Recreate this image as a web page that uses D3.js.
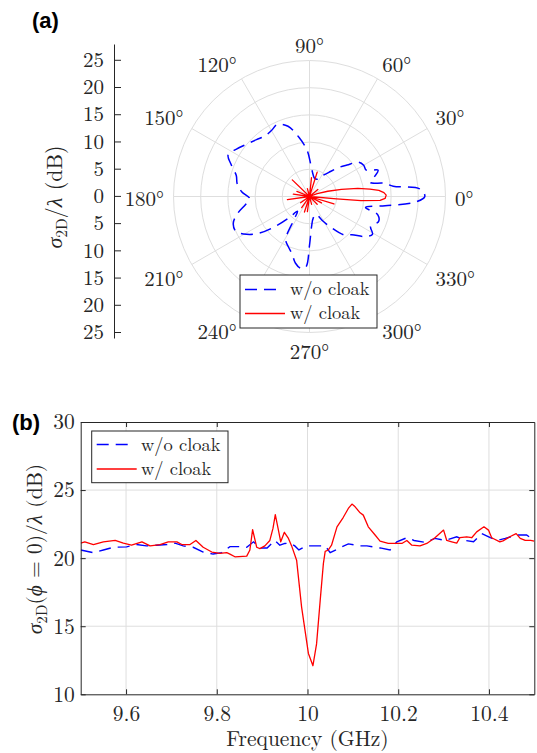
<!DOCTYPE html>
<html>
<head>
<meta charset="utf-8">
<script src="https://cdn.jsdelivr.net/npm/d3@7"></script>
<style>
  body { margin: 0; background: #fff; }
  svg { display: block; }
  text { font-family: 'Latin Modern Roman', 'Liberation Serif', serif; fill: #262626; }
  .panel-tag { font-family: 'Liberation Sans', Arial, sans-serif; font-weight: bold; fill: #000; }
</style>
</head>
<body>
<svg width="537" height="753"></svg>
<script>

// ======================= DATA ===============================
//  (a) polar pattern, angle in degrees, radius in dB
const blueTheta = [0, 4, 7, 10, 13, 17, 21, 25, 30, 35, 40, 45, 50, 58, 65, 75, 83, 88, 93, 100,
    107, 114, 120, 126, 133, 140, 147, 153, 158, 164, 170, 176, 182, 187, 193, 199, 205, 211, 216, 221,
    226, 231, 236, 241, 247, 253, 258, 263, 267, 270, 274, 280, 290, 298, 305, 312, 318, 324, 329, 334,
    340, 345, 349, 353, 357];
const blueR = [21.2, 20.3, 15.5, 14, 11.5, 12.5, 13.5, 11.5, 11.5, 11, 9, 7.5, 6, 4.5, 3.5, 3.5, 4.5, 6, 8.5, 11,
    13.5, 14.5, 14, 13.8, 14.3, 15, 16, 16.8, 15.5, 14, 13.5, 12.5, 11, 11.8, 13.5, 14.8, 15, 13.5, 11.5, 8.5,
    5.5, 3.5, 5, 9, 10, 11, 12.5, 13.3, 13, 9, 5.5, 4, 3.5, 5, 7, 9.5, 10.5, 12.5, 13.5, 12.5,
    13.5, 13, 10.5, 14, 19.5];

const redTheta = [354, 355, 355.5, 356.8, 358.5, 1, 3, 5, 7, 9.5, 12.5, 16, 20, 24, 37, 40, 43, 69, 72.5, 76,
    81, 84, 87, 102, 105, 108, 132, 136, 140, 155, 158, 161, 169, 172, 175, 184, 188, 192, 212, 215,
    218, 232, 235, 238, 249, 252, 255, 259, 262, 265, 282, 285, 288, 312, 315, 318, 329, 332, 335, 339,
    343, 347];
const redR = [0, 5, 9.5, 13, 13.9, 14.1, 13.7, 12.8, 11.2, 9, 6, 3.5, 1.5, 0, 0, 2, 0, 0, 4.7, 0,
    0, 3.5, 0, 0, 1.5, 0, 0, 4.4, 0, 0, 2.5, 0, 0, 3, 0, 0, 4.1, 0, 0, 2,
    0, 0, 2.5, 0, 0, 3, 0, 0, 2.8, 0, 0, 1.5, 0, 0, 2, 0, 0, 2.5, 0, 0,
    4.7, 0];

const polarRingValues = [5, 10, 15, 20, 25];
const polarAngleTicks = [0, 30, 60, 90, 120, 150, 180, 210, 240, 270, 300, 330];
const polarRadialTicks = [-25, -20, -15, -10, -5, 0, 5, 10, 15, 20, 25];

//  (b) monostatic RCS versus frequency
const freqBlue = [9.5, 9.528, 9.55, 9.572, 9.601, 9.623, 9.645, 9.667, 9.69, 9.708, 9.726, 9.748, 9.77, 9.792,
    9.811, 9.829, 9.847, 9.866, 9.881, 9.895, 9.911, 9.928, 9.939, 9.95, 9.961, 9.972, 9.981, 9.998,
    10.017, 10.039, 10.05, 10.068, 10.09, 10.116, 10.131, 10.16, 10.182, 10.197, 10.219, 10.235, 10.261,
    10.281, 10.303, 10.329, 10.347, 10.366, 10.384, 10.403, 10.418, 10.436, 10.462, 10.483, 10.5];
const rcsBlue = [20.6, 20.4, 20.6, 20.8, 20.83, 21.0, 20.9, 20.95, 21.0, 21.1, 20.9, 20.8, 20.45, 20.3,
    20.4, 20.85, 20.85, 20.8, 21.2, 20.75, 20.75, 21.3, 20.95, 21.08, 21.1, 20.9, 20.6, 20.9,
    20.9, 20.9, 20.4, 20.7, 21.05, 20.9, 20.9, 20.75, 20.6, 21.2, 21.5, 21.3, 21.15,
    21.45, 21.3, 21.57, 21.3, 21.2, 21.8, 21.5, 21.3, 21.45, 21.7, 21.7, 21.3];

const freqRed = [9.5, 9.509, 9.528, 9.55, 9.576, 9.594, 9.612, 9.635, 9.653, 9.675, 9.693, 9.712, 9.723,
    9.741, 9.754, 9.77, 9.789, 9.807, 9.822, 9.829, 9.84, 9.866, 9.873, 9.879, 9.888, 9.895, 9.906,
    9.917, 9.924, 9.929, 9.935, 9.941, 9.949, 9.958, 9.965, 9.976, 9.987, 10.002, 10.012, 10.02, 10.028,
    10.035, 10.039, 10.046, 10.053, 10.065, 10.079, 10.09, 10.098, 10.105, 10.116, 10.123, 10.134, 10.149,
    10.16, 10.178, 10.197, 10.208, 10.219, 10.23, 10.248, 10.263, 10.281, 10.3, 10.307, 10.318, 10.329,
    10.336, 10.351, 10.362, 10.373, 10.389, 10.399, 10.406, 10.424, 10.431, 10.446, 10.46, 10.469, 10.48,
    10.492, 10.5];
const rcsRed = [21.1, 21.2, 21.0, 21.2, 21.3, 21.1, 20.95, 21.2, 20.9, 21.0, 21.2, 21.2, 21.0,
    21.0, 21.3, 20.8, 20.45, 20.35, 20.4, 20.3, 20.1, 20.15, 20.6, 22.1, 20.8, 20.7, 20.9,
    21.3, 22.2, 23.2, 22.2, 21.2, 21.9, 21.45, 20.9, 19.85, 16.4, 13.0, 12.1, 13.7, 16.9,
    19.6, 20.5, 20.6, 20.95, 22.3, 23.0, 23.65, 23.97, 23.77, 23.33, 23.16, 22.3, 21.7,
    21.25, 21.08, 21.08, 21.08, 21.3, 20.95, 20.9, 21.08, 21.5, 22.06, 21.3, 21.2, 21.1,
    21.5, 21.57, 21.5, 21.93, 22.3, 22.06, 21.5, 21.2, 21.27, 21.57, 21.8, 21.45, 21.3,
    21.3, 21.25];

const freqTicks = [9.6, 9.8, 10, 10.2, 10.4];
const rcsTicks = [10, 15, 20, 25, 30];
const legendLabels = ['w/o cloak', 'w/ cloak'];

const blueColor = '#0000ff';
const redColor = '#ff0000';
const gridColor = '#dedede';
const axisColor = '#262626';
const serifFont = "'Latin Modern Roman', 'Liberation Serif', serif";

const svgElem = d3.select('svg');


//  writes sigma_2D style labels using tspans
function mathLabel(sel, parts) {
    parts.forEach(p => {
        const t = sel.append('tspan').text(p.t);
        if (p.it) t.style('font-style', 'italic');
        if (p.sub) t.attr('font-size', '70%').attr('dy', 5);
        if (p.up) t.attr('dy', -5);
    });
}


// ======================= (a) POLAR ===============================
const cx = 309.5;
const cy = 196.5;
const rScale = d3.scaleLinear().domain([0, 25]).range([0, 136]);

const polar = svgElem.append('g').attr('transform', `translate(${cx},${cy})`);

polar.append('g').selectAll('circle')
    .data(polarRingValues).enter()
    .append('circle')
    .attr('r', d => rScale(d))
    .attr('fill', 'none')
    .attr('stroke', gridColor);

polar.append('g').selectAll('line')
    .data(polarAngleTicks).enter()
    .append('line')
    .attr('x2', d => rScale(25) * Math.cos(d * Math.PI / 180))
    .attr('y2', d => -rScale(25) * Math.sin(d * Math.PI / 180))
    .attr('stroke', gridColor);

//  angle labels: nearest corner of the label sits on a fixed radius
const labelR = 145.5;
polar.append('g').selectAll('text')
    .data(polarAngleTicks).enter()
    .append('text')
    .attr('font-size', 21)
    .attr('text-anchor', 'middle')
    .attr('dominant-baseline', 'central')
    .text(d => `${d}°`)
    .each(function(d) {
        const w = this.getComputedTextLength();
        const h = 15;
        const c = Math.cos(d * Math.PI / 180);
        const s = Math.sin(d * Math.PI / 180);
        const sx = Math.abs(c) < 1e-6 ? 0 : Math.sign(c);
        const sy = Math.abs(s) < 1e-6 ? 0 : Math.sign(s);
        d3.select(this)
            .attr('x', labelR * c + sx * w / 2)
            .attr('y', -labelR * s - sy * h / 2);
    });

const radialLine = d3.lineRadial()
    .angle(d => (90 - d[0]) * Math.PI / 180)
    .radius(d => rScale(Math.max(0, d[1])));

polar.append('path')
    .datum(blueTheta.map((t, i) => [t, blueR[i]]))
    .attr('d', radialLine.curve(d3.curveCatmullRomClosed.alpha(0.5)))
    .attr('fill', 'none')
    .attr('stroke', blueColor)
    .attr('stroke-width', 1.5)
    .attr('stroke-dasharray', '12,7');

polar.append('path')
    .datum(redTheta.map((t, i) => [t, redR[i]]))
    .attr('d', radialLine.curve(d3.curveLinearClosed))
    .attr('fill', 'none')
    .attr('stroke', redColor)
    .attr('stroke-width', 1.3)
    .attr('stroke-linejoin', 'round');

//  radial scale drawn as a vertical axis on the left
const radialAxisScale = d3.scaleLinear().domain([-26.1, 27.9]).range([338, 44]);
svgElem.append('g')
    .attr('transform', 'translate(114,0)')
    .call(d3.axisLeft(radialAxisScale)
        .tickValues(polarRadialTicks)
        .tickFormat(d => Math.abs(d))
        .tickSizeInner(-7)
        .tickSizeOuter(0)
        .tickPadding(10))
    .call(g => g.attr('font-family', serifFont))
    .call(g => g.selectAll('path, line').attr('stroke', axisColor))
    .call(g => g.selectAll('text').attr('font-size', 21).attr('fill', axisColor));

svgElem.append('text')
    .attr('transform', 'translate(62,197) rotate(-90)')
    .attr('text-anchor', 'middle')
    .attr('font-size', 22)
    .call(mathLabel, [{ t: 'σ', it: true }, { t: '2D', sub: true }, { t: '/', up: true }, { t: 'λ', it: true }, { t: ' (dB)' }]);

//  polar legend
const legA = svgElem.append('g').attr('transform', 'translate(240,275)');
legA.append('rect').attr('width', 137).attr('height', 53)
    .attr('fill', '#fff').attr('stroke', axisColor);
legA.append('line').attr('x1', 5).attr('x2', 41).attr('y1', 14.5).attr('y2', 14.5)
    .attr('stroke', blueColor).attr('stroke-width', 1.5).attr('stroke-dasharray', '12,7');
legA.append('line').attr('x1', 5).attr('x2', 45).attr('y1', 38.5).attr('y2', 38.5)
    .attr('stroke', redColor).attr('stroke-width', 1.3);
legA.selectAll('text').data(legendLabels).enter()
    .append('text')
    .attr('x', 50)
    .attr('y', (d, i) => 20 + i * 24)
    .attr('font-size', 18.5)
    .text(d => d);

svgElem.append('text').attr('class', 'panel-tag')
    .attr('x', 32).attr('y', 28).attr('font-size', 22).text('(a)');


// ======================= (b) FREQUENCY SWEEP ===============================
const margin = { left: 80.7, right: 534.3, top: 422, bottom: 694.3 };
const xScale = d3.scaleLinear().domain([9.5, 10.5]).range([margin.left, margin.right]);
const yScale = d3.scaleLinear().domain([10, 30]).range([margin.bottom, margin.top]);
const plotW = margin.right - margin.left;
const plotH = margin.bottom - margin.top;

svgElem.append('defs').append('clipPath').attr('id', 'clipB')
    .append('rect').attr('x', margin.left).attr('y', margin.top).attr('width', plotW).attr('height', plotH);

//  grid
svgElem.append('g').selectAll('line.vx')
    .data(freqTicks).enter()
    .append('line')
    .attr('x1', d => xScale(d)).attr('x2', d => xScale(d))
    .attr('y1', margin.top).attr('y2', margin.bottom)
    .attr('stroke', gridColor);
svgElem.append('g').selectAll('line.hy')
    .data(rcsTicks.slice(1, -1)).enter()
    .append('line')
    .attr('y1', d => yScale(d)).attr('y2', d => yScale(d))
    .attr('x1', margin.left).attr('x2', margin.right)
    .attr('stroke', gridColor);

const freqLine = d3.line().x(d => xScale(d[0])).y(d => yScale(d[1]));

svgElem.append('path')
    .datum(freqBlue.map((f, i) => [f, rcsBlue[i]]))
    .attr('clip-path', 'url(#clipB)')
    .attr('d', freqLine)
    .attr('fill', 'none')
    .attr('stroke', blueColor)
    .attr('stroke-width', 1.4)
    .attr('stroke-dasharray', '12,7');

svgElem.append('path')
    .datum(freqRed.map((f, i) => [f, rcsRed[i]]))
    .attr('clip-path', 'url(#clipB)')
    .attr('d', freqLine)
    .attr('fill', 'none')
    .attr('stroke', redColor)
    .attr('stroke-width', 1.3)
    .attr('stroke-linejoin', 'round');

//  axes on all four sides, ticks pointing inward
const styleAxis = g => {
    g.attr('font-family', serifFont);
    g.selectAll('path, line').attr('stroke', axisColor);
    g.selectAll('text').attr('font-size', 21.5).attr('fill', axisColor);
};
svgElem.append('g').attr('transform', `translate(0,${margin.bottom})`)
    .call(d3.axisBottom(xScale).tickValues(freqTicks)
        .tickFormat(d => d === 10 ? '10' : d3.format('.1f')(d))
        .tickSizeInner(-5).tickSizeOuter(0).tickPadding(11))
    .call(styleAxis);
svgElem.append('g').attr('transform', `translate(0,${margin.top})`)
    .call(d3.axisTop(xScale).tickValues(freqTicks).tickFormat('')
        .tickSizeInner(-5).tickSizeOuter(0))
    .call(styleAxis);
svgElem.append('g').attr('transform', `translate(${margin.left},0)`)
    .call(d3.axisLeft(yScale).tickValues(rcsTicks)
        .tickSizeInner(-5).tickSizeOuter(0).tickPadding(6))
    .call(styleAxis);
svgElem.append('g').attr('transform', `translate(${margin.right},0)`)
    .call(d3.axisRight(yScale).tickValues(rcsTicks).tickFormat('')
        .tickSizeInner(-5).tickSizeOuter(0))
    .call(styleAxis);

svgElem.append('text')
    .attr('x', xScale(10)).attr('y', 746)
    .attr('text-anchor', 'middle')
    .attr('font-size', 21.5)
    .text('Frequency (GHz)');

svgElem.append('text')
    .attr('transform', 'translate(42,549) rotate(-90)')
    .attr('text-anchor', 'middle')
    .attr('font-size', 21.5)
    .call(mathLabel, [{ t: 'σ', it: true }, { t: '2D', sub: true }, { t: '(', up: true }, { t: 'ϕ', it: true },
        { t: ' = 0)/' }, { t: 'λ', it: true }, { t: ' (dB)' }]);

//  legend
const legB = svgElem.append('g').attr('transform', 'translate(91.7,431)');
legB.append('rect').attr('width', 136.3).attr('height', 51.7)
    .attr('fill', '#fff').attr('stroke', axisColor);
legB.append('line').attr('x1', 5).attr('x2', 41).attr('y1', 13.5).attr('y2', 13.5)
    .attr('stroke', blueColor).attr('stroke-width', 1.4).attr('stroke-dasharray', '12,7');
legB.append('line').attr('x1', 5).attr('x2', 45).attr('y1', 38).attr('y2', 38)
    .attr('stroke', redColor).attr('stroke-width', 1.3);
legB.selectAll('text').data(legendLabels).enter()
    .append('text')
    .attr('x', 49.3)
    .attr('y', (d, i) => 19.5 + i * 24.5)
    .attr('font-size', 18.5)
    .text(d => d);

svgElem.append('text').attr('class', 'panel-tag')
    .attr('x', 12).attr('y', 430).attr('font-size', 22).text('(b)');

</script>
</body>
</html>
